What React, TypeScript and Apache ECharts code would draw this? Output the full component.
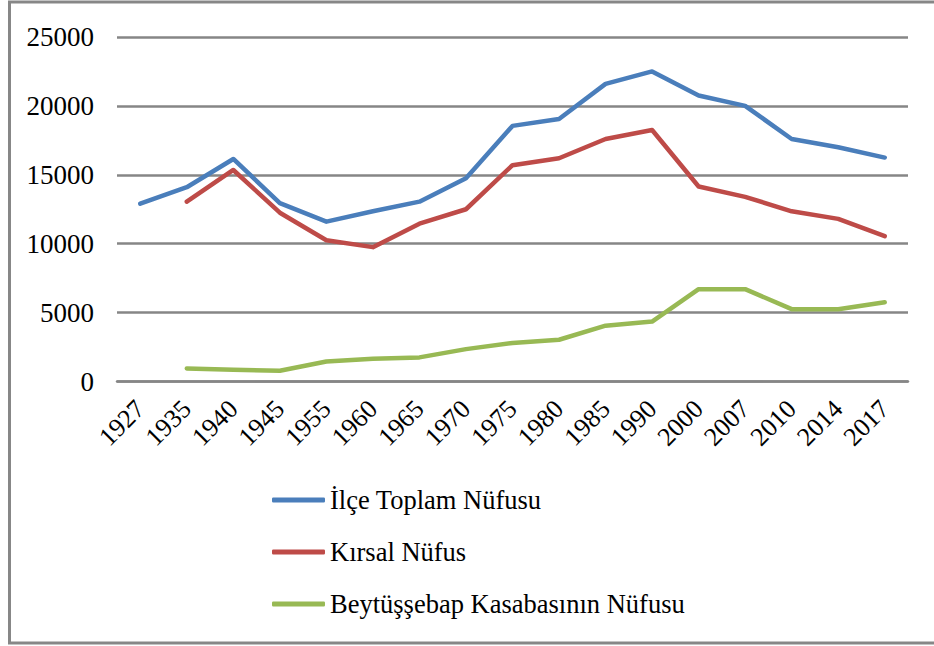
import React, { useEffect, useRef } from "react";
import * as echarts from "echarts";

const years = ["1927", "1935", "1940", "1945", "1955", "1960", "1965", "1970", "1975", "1980", "1985", "1990", "2000", "2007", "2010", "2014", "2017"];
const ilceToplam = [12900, 14100, 16150, 12950, 11600, 12350, 13050, 14750, 18550, 19050, 21600, 22500, 20750, 20000, 17600, 17000, 16250];
const kirsal = [null, 13050, 15350, 12250, 10250, 9750, 11450, 12500, 15700, 16200, 17600, 18250, 14150, 13400, 12350, 11800, 10550];
const kasaba = [null, 950, 850, 780, 1450, 1650, 1750, 2350, 2800, 3030, 4050, 4350, 6700, 6700, 5250, 5250, 5750];
const yTicks = [0, 5000, 10000, 15000, 20000, 25000];

const FONT = "'Liberation Serif', 'Times New Roman', serif";

export default function App() {
  const ref = useRef<HTMLDivElement>(null);
  useEffect(() => {
    if (!ref.current) return;
    const chart = echarts.init(ref.current, undefined, { renderer: "svg" });
    const mk = (name: string, data: (number | null)[], color: string) => ({
      name,
      type: "line",
      data,
      symbol: "none",
      connectNulls: false,
      lineStyle: { color, width: 4.5, cap: "round", join: "round" },
      itemStyle: { color },
    });
    chart.setOption({
      animation: false,
      backgroundColor: "#ffffff",
      textStyle: { fontFamily: FONT },
      graphic: [
        {
          type: "rect",
          shape: { x: 9.5, y: 2, width: 928, height: 641 },
          style: { fill: "none", stroke: "#878787", lineWidth: 3 },
          silent: true,
        },
      ],
      grid: { left: 117, right: 26, top: 37, bottom: 264.5, containLabel: false },
      legend: {
        orient: "vertical",
        left: 272,
        top: 485,
        padding: 0,
        icon: "roundRect",
        itemWidth: 53,
        itemHeight: 5,
        itemGap: 22,
        itemStyle: { borderWidth: 0 },
        textStyle: { fontFamily: FONT, fontSize: 26.5, color: "#000", lineHeight: 30 },
        data: ["İlçe Toplam Nüfusu", "Kırsal Nüfus", "Beytüşşebap Kasabasının Nüfusu"],
      },
      xAxis: {
        type: "category",
        data: years,
        boundaryGap: true,
        axisLine: { show: true, lineStyle: { color: "#868686", width: 2.5 } },
        axisTick: { show: false },
        axisLabel: {
          rotate: 45,
          margin: 23,
          interval: 0,
          fontFamily: FONT,
          fontSize: 26,
          color: "#000",
        },
        splitLine: { show: false },
      },
      yAxis: {
        type: "value",
        min: yTicks[0],
        max: yTicks[yTicks.length - 1],
        interval: 5000,
        axisLine: { show: false },
        axisTick: { show: false },
        axisLabel: {
          margin: 23,
          fontFamily: FONT,
          fontSize: 27,
          color: "#000",
          formatter: (v: number) => String(v),
        },
        splitLine: { show: true, lineStyle: { color: "#868686", width: 2.5 } },
      },
      series: [
        mk("İlçe Toplam Nüfusu", ilceToplam, "#4a7ebb"),
        mk("Kırsal Nüfus", kirsal, "#be4b48"),
        mk("Beytüşşebap Kasabasının Nüfusu", kasaba, "#98b954"),
      ],
    });
    return () => chart.dispose();
  }, []);
  return (
    <div
      ref={ref}
      style={{ position: "fixed", left: 0, top: 0, width: 934, height: 646, background: "#fff" }}
    />
  );
}
